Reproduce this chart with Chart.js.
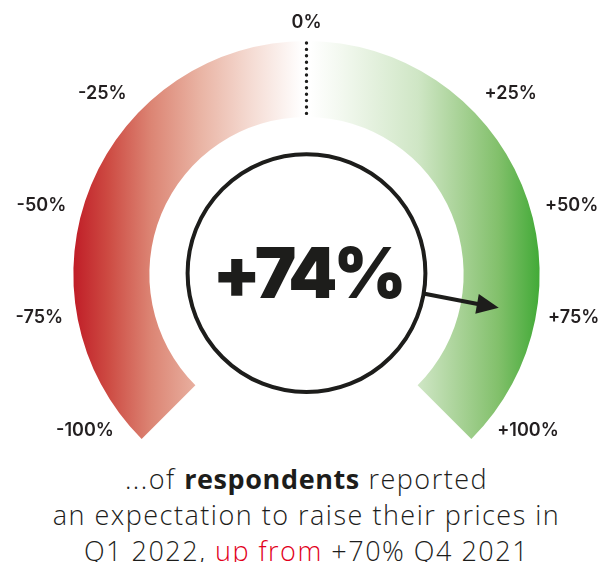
<!DOCTYPE html>
<html>
<head>
<meta charset="utf-8">
<script src="https://cdn.jsdelivr.net/npm/chart.js@4.4.1/dist/chart.umd.min.js"></script>
<style>
    html, body { margin: 0; padding: 0; background: #fff; }
    body { width: 613px; height: 562px; overflow: hidden; position: relative; }
    #gaugeWrap { position: absolute; left: 0; top: 0; width: 613px; height: 460px; }
    #caption {
        position: absolute; left: 0; top: 461px; width: 613px;
        text-align: center; font-family: 'Open Sans', sans-serif; font-weight: 300;
        font-size: 27px; line-height: 36px; letter-spacing: 1.5px; color: #1d1d1b;
    }
    #caption b { font-weight: 700; letter-spacing: 0.6px; }
    #caption .up { color: #e2001a; }
</style>
</head>
<body>
<div id="gaugeWrap"><canvas id="gaugeChart"></canvas></div>
<div id="caption">...of <b>respondents</b> reported<br>an expectation to raise their prices in<br>Q1 2022, <span class="up">up from</span> <span id="prevVal"></span> Q4 2021</div>
<script>
const scaleMin = -100;
const scaleMax = 100;
const segmentLabels = ['Negative', 'Positive'];
const segmentValues = [100, 100];
const tickValues = [-100, -75, -50, -25, 0, 25, 50, 75, 100];
const tickLabels = ['-100%', '-75%', '-50%', '-25%', '0%', '+25%', '+50%', '+75%', '+100%'];
const reportedValue = 74;
const previousValue = 70;

document.getElementById('prevVal').textContent = '+' + previousValue + '%';

// label offsets from the gauge centre, in units of the outer radius
const labelOffsets = [
    [-0.95, 0.67], [-1.146, 0.185], [-1.137, -0.292], [-0.876, -0.773], [0, -1.077],
    [0.876, -0.773], [1.137, -0.292], [1.146, 0.185], [0.95, 0.67]
];

const ROTATION = -135;
const CIRCUMFERENCE = 270;

function gaugeGeometry(chart) {
    const area = chart.chartArea;
    const ctrl = chart.getDatasetMeta(0).controller;
    const R = (ctrl && ctrl.outerRadius) || area.height / 1.7071;
    const cx = (area.left + area.right) / 2 + ((ctrl && ctrl.offsetX) || 0);
    return { cx, R };
}

function bandFill(context) {
    const chart = context.chart;
    if (!chart.chartArea) return '#ddd';
    const { cx, R } = gaugeGeometry(chart);
    const ctx = chart.ctx;
    if (context.dataIndex === 0) {
        const g = ctx.createLinearGradient(cx - R, 0, cx - 4, 0);
        g.addColorStop(0, '#c01d27');
        g.addColorStop(0.15, '#cd4a42');
        g.addColorStop(0.34, '#dc8574');
        g.addColorStop(0.55, '#e9b3a3');
        g.addColorStop(0.78, '#f5dcd4');
        g.addColorStop(1, '#ffffff');
        return g;
    }
    const g = ctx.createLinearGradient(cx + 4, 0, cx + R, 0);
    g.addColorStop(0, '#ffffff');
    g.addColorStop(0.12, '#f4f9f1');
    g.addColorStop(0.47, '#cfe6c5');
    g.addColorStop(0.66, '#a6d194');
    g.addColorStop(0.82, '#82c06b');
    g.addColorStop(1, '#42aa37');
    return g;
}

const gaugeOverlay = {
    id: 'gaugeOverlay',
    afterDatasetsDraw(chart) {
        const arc = chart.getDatasetMeta(0).data[0];
        const { x, y, outerRadius: R, innerRadius: r } = arc.getProps(['x', 'y', 'outerRadius', 'innerRadius'], true);
        const ctx = chart.ctx;
        const ink = '#1d1d1b';
        ctx.save();

        // dotted zero line
        ctx.strokeStyle = ink;
        ctx.lineWidth = 3.4;
        ctx.lineCap = 'round';
        ctx.setLineDash([0, 6.4]);
        ctx.beginPath();
        ctx.moveTo(x, y - R + 2);
        ctx.lineTo(x, y - r);
        ctx.stroke();
        ctx.setLineDash([]);

        // tick labels
        ctx.fillStyle = '#231f20';
        ctx.font = '600 18px Inter, sans-serif';
        ctx.textAlign = 'center';
        ctx.textBaseline = 'middle';
        tickLabels.forEach((t, i) => {
            const o = labelOffsets[i];
            ctx.fillText(t, x + o[0] * R, y + o[1] * R);
        });

        // centre circle
        const cr = R * 0.51;
        ctx.beginPath();
        ctx.arc(x, y - 1, cr, 0, Math.PI * 2);
        ctx.fillStyle = '#fff';
        ctx.fill();
        ctx.lineWidth = 4;
        ctx.strokeStyle = ink;
        ctx.stroke();

        // value text
        ctx.fillStyle = ink;
        ctx.font = '900 70px Inter, sans-serif';
        ctx.textBaseline = 'alphabetic';
        ctx.textAlign = 'left';
        ctx.letterSpacing = '-4px';
        const label = '+' + reportedValue + '%';
        const w = ctx.measureText(label).width;
        ctx.fillText(label, x + 1 - w / 2, y + 24);
        ctx.letterSpacing = '0px';

        // arrow pointing at the value on the band
        const frac = (reportedValue - scaleMin) / (scaleMax - scaleMin);
        const ang = (ROTATION + frac * CIRCUMFERENCE - 90) * Math.PI / 180;
        const ux = Math.cos(ang), uy = Math.sin(ang);
        const tipR = (R + r) / 2;
        const headLen = 22, headHalf = 10;
        const sx = x + ux * (cr + 1), sy = y - 1 + uy * (cr + 1);
        const tx = x + ux * tipR, ty = y + uy * tipR;
        const bx = tx - ux * headLen, by = ty - uy * headLen;
        ctx.lineWidth = 4;
        ctx.lineCap = 'butt';
        ctx.beginPath();
        ctx.moveTo(sx, sy);
        ctx.lineTo(bx + ux * 2, by + uy * 2);
        ctx.stroke();
        ctx.beginPath();
        ctx.moveTo(tx, ty);
        ctx.lineTo(bx - uy * headHalf, by + ux * headHalf);
        ctx.lineTo(bx + uy * headHalf, by - ux * headHalf);
        ctx.closePath();
        ctx.fill();

        ctx.restore();
    }
};

new Chart(document.getElementById('gaugeChart'), {
    type: 'doughnut',
    data: {
        labels: segmentLabels,
        datasets: [{
            data: segmentValues,
            backgroundColor: bandFill,
            borderWidth: 0,
            hoverOffset: 0
        }]
    },
    options: {
        responsive: true,
        maintainAspectRatio: false,
        animation: false,
        events: [],
        rotation: ROTATION,
        circumference: CIRCUMFERENCE,
        cutout: '67.4%',
        layout: { padding: { top: 41, bottom: 21 } },
        plugins: {
            legend: { display: false },
            tooltip: { enabled: false }
        }
    },
    plugins: [gaugeOverlay]
});
</script>
</body>
</html>
